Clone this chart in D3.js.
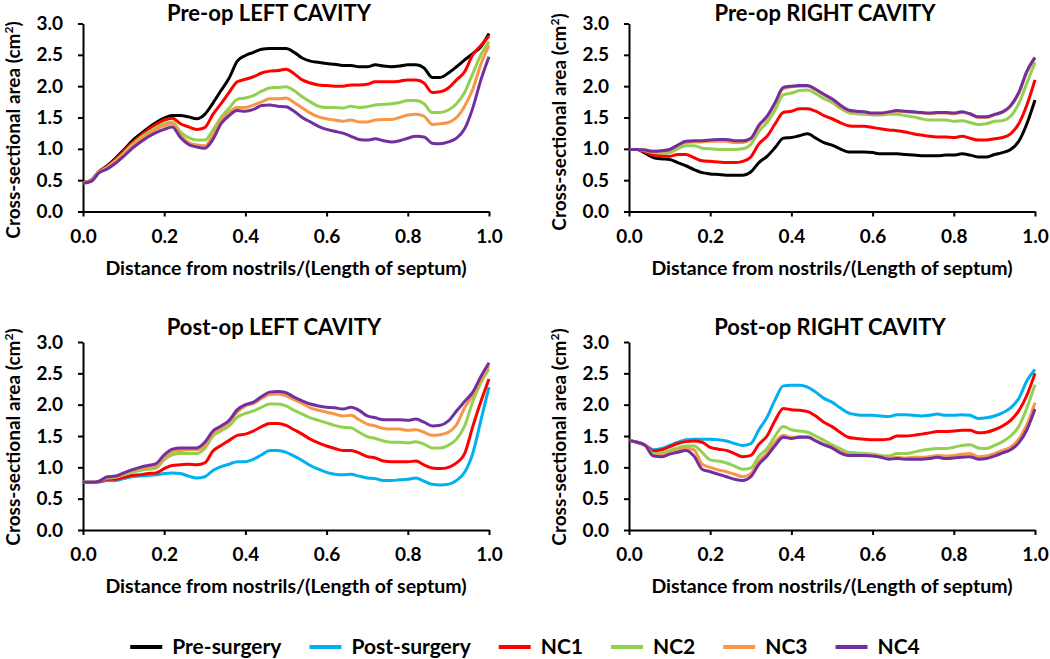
<!DOCTYPE html>
<html>
<head>
<meta charset="utf-8">
<script src="https://cdn.jsdelivr.net/npm/d3@7"></script>
<style>
  body { margin: 0; background: #fff; }
  svg text { font-family: Lato, "Open Sans", sans-serif; font-weight: bold; fill: #000; }
</style>
</head>
<body>
<svg id="chart" width="1050" height="659"></svg>
<script>
// sample positions along the septum (fraction of length)
const xPos = [0, 0.02, 0.04, 0.06, 0.08, 0.10, 0.12, 0.14, 0.16, 0.18, 0.20, 0.22, 0.24, 0.26, 0.28, 0.30,
  0.32, 0.34, 0.36, 0.38, 0.40, 0.42, 0.44, 0.46, 0.48, 0.50, 0.52, 0.54, 0.56, 0.58, 0.60, 0.62, 0.64,
  0.66, 0.68, 0.70, 0.72, 0.74, 0.76, 0.78, 0.80, 0.82, 0.84, 0.86, 0.88, 0.90, 0.92, 0.94, 0.96, 0.98, 1.00];

const seriesNames = ["Pre-surgery", "Post-surgery", "NC1", "NC2", "NC3", "NC4"];
const seriesColors = ["#000000", "#00b0f0", "#ff0000", "#92d050", "#f79646", "#7030a0"];
const panelTitles = ["Pre-op LEFT CAVITY", "Pre-op RIGHT CAVITY", "Post-op LEFT CAVITY", "Post-op RIGHT CAVITY"];
const xTicks = [0, 0.2, 0.4, 0.6, 0.8, 1.0];
const yTicks = [0, 0.5, 1.0, 1.5, 2.0, 2.5, 3.0];

// Pre-op left cavity
const preLeftPre = [0.46, 0.50, 0.64, 0.73, 0.85, 0.98, 1.12, 1.23, 1.33, 1.42, 1.49, 1.53, 1.53, 1.51, 1.48, 1.55,
  1.73, 1.93, 2.13, 2.40, 2.49, 2.54, 2.59, 2.60, 2.60, 2.60, 2.54, 2.45, 2.40, 2.38, 2.36, 2.35, 2.33,
  2.33, 2.31, 2.31, 2.34, 2.32, 2.31, 2.32, 2.34, 2.34, 2.29, 2.14, 2.14, 2.21, 2.31, 2.42, 2.52, 2.63, 2.84];
const preLeftNC1 = [0.46, 0.50, 0.64, 0.72, 0.83, 0.96, 1.09, 1.20, 1.30, 1.39, 1.46, 1.49, 1.40, 1.35, 1.31, 1.34,
  1.55, 1.72, 1.90, 2.07, 2.11, 2.15, 2.21, 2.24, 2.25, 2.27, 2.20, 2.10, 2.05, 2.02, 2.01, 2.00, 2.00,
  2.02, 2.02, 2.03, 2.07, 2.07, 2.07, 2.08, 2.10, 2.10, 2.05, 1.90, 1.91, 1.97, 2.10, 2.23, 2.50, 2.65, 2.80];
const preLeftNC2 = [0.46, 0.50, 0.63, 0.71, 0.81, 0.93, 1.06, 1.17, 1.26, 1.34, 1.40, 1.43, 1.27, 1.18, 1.14, 1.14,
  1.30, 1.50, 1.65, 1.79, 1.81, 1.85, 1.92, 1.97, 1.98, 1.99, 1.93, 1.83, 1.75, 1.68, 1.66, 1.66, 1.65,
  1.68, 1.66, 1.67, 1.70, 1.71, 1.72, 1.74, 1.77, 1.77, 1.72, 1.58, 1.58, 1.62, 1.72, 1.90, 2.20, 2.50, 2.71];
const preLeftNC3 = [0.46, 0.49, 0.63, 0.70, 0.80, 0.91, 1.04, 1.14, 1.23, 1.31, 1.37, 1.40, 1.22, 1.10, 1.06, 1.05,
  1.22, 1.45, 1.58, 1.66, 1.66, 1.70, 1.75, 1.80, 1.80, 1.81, 1.74, 1.65, 1.57, 1.51, 1.48, 1.46, 1.44,
  1.46, 1.43, 1.43, 1.46, 1.47, 1.47, 1.50, 1.54, 1.55, 1.52, 1.39, 1.40, 1.42, 1.50, 1.68, 1.95, 2.35, 2.65];
const preLeftNC4 = [0.45, 0.48, 0.62, 0.68, 0.77, 0.88, 1.00, 1.10, 1.19, 1.26, 1.31, 1.35, 1.18, 1.07, 1.03, 1.01,
  1.15, 1.40, 1.53, 1.61, 1.60, 1.63, 1.69, 1.70, 1.68, 1.67, 1.60, 1.50, 1.43, 1.36, 1.31, 1.28, 1.25,
  1.20, 1.15, 1.14, 1.16, 1.13, 1.11, 1.13, 1.17, 1.20, 1.19, 1.09, 1.08, 1.11, 1.17, 1.32, 1.65, 2.10, 2.47];

// Pre-op right cavity
const preRightPre = [0.99, 0.99, 0.93, 0.86, 0.84, 0.83, 0.78, 0.73, 0.67, 0.62, 0.60, 0.59, 0.58, 0.58, 0.58, 0.63,
  0.78, 0.88, 1.02, 1.17, 1.18, 1.21, 1.24, 1.17, 1.10, 1.06, 1.00, 0.95, 0.95, 0.95, 0.94, 0.92, 0.92,
  0.92, 0.91, 0.90, 0.89, 0.89, 0.89, 0.90, 0.90, 0.92, 0.90, 0.87, 0.87, 0.91, 0.94, 0.99, 1.12, 1.40, 1.78];
const preRightNC1 = [0.99, 0.99, 0.95, 0.90, 0.89, 0.88, 0.91, 0.91, 0.86, 0.81, 0.80, 0.79, 0.78, 0.78, 0.80, 0.87,
  1.08, 1.20, 1.40, 1.58, 1.60, 1.64, 1.64, 1.60, 1.53, 1.48, 1.42, 1.37, 1.36, 1.36, 1.34, 1.32, 1.30,
  1.29, 1.27, 1.24, 1.22, 1.20, 1.19, 1.19, 1.18, 1.20, 1.17, 1.14, 1.14, 1.16, 1.18, 1.24, 1.40, 1.70, 2.10];
const preRightNC2 = [0.99, 0.99, 0.97, 0.94, 0.93, 0.94, 1.00, 1.05, 1.05, 1.01, 1.00, 0.99, 0.99, 0.99, 1.00, 1.07,
  1.28, 1.42, 1.62, 1.86, 1.89, 1.93, 1.94, 1.88, 1.80, 1.74, 1.65, 1.58, 1.56, 1.55, 1.54, 1.54, 1.55,
  1.55, 1.53, 1.51, 1.48, 1.46, 1.46, 1.46, 1.44, 1.45, 1.42, 1.39, 1.40, 1.44, 1.45, 1.52, 1.72, 2.05, 2.38];
const preRightNC3 = [0.99, 0.99, 0.98, 0.96, 0.96, 0.98, 1.05, 1.10, 1.11, 1.11, 1.12, 1.12, 1.12, 1.10, 1.10, 1.15,
  1.36, 1.50, 1.72, 1.96, 1.99, 2.00, 2.00, 1.94, 1.86, 1.78, 1.68, 1.61, 1.59, 1.58, 1.56, 1.56, 1.58,
  1.60, 1.59, 1.58, 1.57, 1.56, 1.57, 1.57, 1.56, 1.58, 1.55, 1.50, 1.50, 1.54, 1.58, 1.68, 1.88, 2.22, 2.45];
const preRightNC4 = [0.99, 0.99, 0.98, 0.96, 0.97, 0.99, 1.06, 1.12, 1.13, 1.13, 1.14, 1.15, 1.15, 1.13, 1.13, 1.17,
  1.38, 1.52, 1.74, 1.98, 2.00, 2.01, 2.01, 1.95, 1.87, 1.80, 1.70, 1.62, 1.60, 1.59, 1.57, 1.57, 1.59,
  1.61, 1.60, 1.59, 1.58, 1.57, 1.58, 1.58, 1.57, 1.59, 1.56, 1.51, 1.51, 1.55, 1.59, 1.69, 1.90, 2.24, 2.46];

// Post-op left cavity
const postLeftPost = [0.76, 0.76, 0.77, 0.79, 0.79, 0.82, 0.85, 0.86, 0.87, 0.88, 0.90, 0.91, 0.90, 0.86, 0.83, 0.85,
  0.95, 1.01, 1.05, 1.09, 1.09, 1.13, 1.20, 1.27, 1.27, 1.24, 1.18, 1.11, 1.03, 0.97, 0.92, 0.89, 0.88,
  0.89, 0.86, 0.83, 0.82, 0.79, 0.79, 0.80, 0.81, 0.83, 0.78, 0.73, 0.72, 0.73, 0.79, 0.92, 1.22, 1.75, 2.28];
const postLeftNC1 = [0.76, 0.76, 0.77, 0.81, 0.81, 0.84, 0.87, 0.88, 0.90, 0.91, 0.98, 1.03, 1.04, 1.05, 1.04, 1.07,
  1.26, 1.35, 1.43, 1.51, 1.53, 1.58, 1.65, 1.70, 1.70, 1.67, 1.60, 1.53, 1.45, 1.39, 1.34, 1.30, 1.27,
  1.27, 1.23, 1.17, 1.15, 1.10, 1.09, 1.09, 1.09, 1.10, 1.04, 0.99, 0.98, 1.00, 1.07, 1.22, 1.65, 2.05, 2.41];
const postLeftNC2 = [0.76, 0.76, 0.78, 0.83, 0.84, 0.88, 0.92, 0.95, 0.97, 0.99, 1.12, 1.20, 1.22, 1.22, 1.22, 1.30,
  1.50, 1.58, 1.66, 1.80, 1.86, 1.90, 1.96, 2.01, 2.01, 1.98, 1.91, 1.85, 1.79, 1.75, 1.71, 1.67, 1.64,
  1.63, 1.56, 1.49, 1.46, 1.42, 1.40, 1.40, 1.39, 1.41, 1.37, 1.31, 1.31, 1.35, 1.45, 1.66, 2.05, 2.35, 2.57];
const postLeftNC3 = [0.76, 0.76, 0.78, 0.84, 0.85, 0.90, 0.95, 0.98, 1.00, 1.02, 1.15, 1.25, 1.27, 1.28, 1.28, 1.35,
  1.55, 1.63, 1.72, 1.88, 1.98, 2.02, 2.10, 2.16, 2.17, 2.14, 2.08, 2.02, 1.95, 1.91, 1.88, 1.85, 1.82,
  1.83, 1.76, 1.69, 1.66, 1.62, 1.61, 1.61, 1.59, 1.60, 1.56, 1.51, 1.52, 1.56, 1.68, 1.95, 2.15, 2.40, 2.62];
const postLeftNC4 = [0.76, 0.76, 0.78, 0.85, 0.86, 0.91, 0.96, 1.00, 1.03, 1.06, 1.20, 1.29, 1.31, 1.31, 1.31, 1.40,
  1.58, 1.66, 1.75, 1.92, 2.00, 2.04, 2.13, 2.20, 2.21, 2.19, 2.12, 2.06, 2.01, 1.98, 1.96, 1.95, 1.93,
  1.96, 1.91, 1.82, 1.79, 1.76, 1.76, 1.76, 1.75, 1.77, 1.72, 1.66, 1.67, 1.74, 1.90, 2.05, 2.20, 2.45, 2.67];

// Post-op right cavity
const postRightPost = [1.43, 1.40, 1.35, 1.28, 1.30, 1.35, 1.40, 1.44, 1.45, 1.45, 1.45, 1.44, 1.42, 1.38, 1.35, 1.38,
  1.60, 1.80, 2.08, 2.30, 2.31, 2.31, 2.28, 2.20, 2.10, 2.04, 1.95, 1.87, 1.84, 1.83, 1.83, 1.82, 1.81,
  1.84, 1.84, 1.83, 1.82, 1.83, 1.85, 1.83, 1.83, 1.84, 1.83, 1.78, 1.79, 1.82, 1.87, 1.95, 2.10, 2.38, 2.56];
const postRightNC1 = [1.43, 1.40, 1.35, 1.26, 1.28, 1.33, 1.38, 1.41, 1.42, 1.40, 1.32, 1.29, 1.27, 1.22, 1.17, 1.19,
  1.37, 1.50, 1.75, 1.94, 1.92, 1.91, 1.89, 1.82, 1.72, 1.65, 1.56, 1.48, 1.46, 1.45, 1.44, 1.44, 1.45,
  1.50, 1.50, 1.51, 1.53, 1.55, 1.57, 1.57, 1.58, 1.59, 1.59, 1.55, 1.56, 1.60, 1.66, 1.75, 1.90, 2.15, 2.50];
const postRightNC2 = [1.43, 1.40, 1.35, 1.22, 1.23, 1.27, 1.31, 1.34, 1.34, 1.24, 1.12, 1.10, 1.07, 1.02, 0.97, 0.99,
  1.18, 1.30, 1.50, 1.65, 1.60, 1.58, 1.56, 1.50, 1.43, 1.36, 1.30, 1.24, 1.23, 1.22, 1.21, 1.19, 1.18,
  1.22, 1.22, 1.24, 1.27, 1.29, 1.30, 1.30, 1.32, 1.35, 1.36, 1.31, 1.30, 1.35, 1.41, 1.50, 1.65, 1.95, 2.32];
const postRightNC3 = [1.43, 1.40, 1.35, 1.19, 1.19, 1.23, 1.27, 1.30, 1.28, 1.05, 1.00, 0.96, 0.93, 0.89, 0.85, 0.90,
  1.10, 1.23, 1.40, 1.51, 1.48, 1.49, 1.49, 1.43, 1.37, 1.32, 1.25, 1.21, 1.20, 1.20, 1.19, 1.17, 1.15,
  1.16, 1.15, 1.16, 1.16, 1.17, 1.19, 1.18, 1.19, 1.21, 1.22, 1.17, 1.18, 1.22, 1.27, 1.32, 1.45, 1.68, 2.03];
const postRightNC4 = [1.43, 1.40, 1.35, 1.18, 1.17, 1.21, 1.24, 1.27, 1.18, 0.97, 0.93, 0.89, 0.85, 0.81, 0.79, 0.85,
  1.05, 1.18, 1.35, 1.48, 1.46, 1.48, 1.48, 1.42, 1.36, 1.31, 1.23, 1.19, 1.19, 1.19, 1.18, 1.16, 1.13,
  1.14, 1.13, 1.13, 1.13, 1.14, 1.16, 1.14, 1.15, 1.16, 1.17, 1.13, 1.14, 1.18, 1.23, 1.28, 1.39, 1.60, 1.93];

// one entry per panel: which series (index into seriesNames) and its values
const panelSeries = [
  [[0, preLeftPre], [2, preLeftNC1], [3, preLeftNC2], [4, preLeftNC3], [5, preLeftNC4]],
  [[0, preRightPre], [2, preRightNC1], [3, preRightNC2], [4, preRightNC3], [5, preRightNC4]],
  [[1, postLeftPost], [2, postLeftNC1], [3, postLeftNC2], [4, postLeftNC3], [5, postLeftNC4]],
  [[1, postRightPost], [2, postRightNC1], [3, postRightNC2], [4, postRightNC3], [5, postRightNC4]]
];

const svg = d3.select("#chart");

// plot areas (left, right, top, bottom) in page pixels
const panelBoxes = [
  {x0: 83, x1: 489, y0: 23.5, y1: 211.5, titleX: 269, titleY: 21, yTitleY: 130},
  {x0: 629, x1: 1035, y0: 23.5, y1: 211.5, titleX: 825, titleY: 21, yTitleY: 122},
  {x0: 83, x1: 489, y0: 342, y1: 530, titleX: 274, titleY: 335, yTitleY: 437},
  {x0: 629, x1: 1035, y0: 342, y1: 530, titleX: 830, titleY: 335, yTitleY: 437}
];

function drawPanel(box, title, series) {
  const x = d3.scaleLinear().domain([0, 1]).range([box.x0, box.x1]);
  const y = d3.scaleLinear().domain([0, 3]).range([box.y1, box.y0]);
  const g = svg.append("g");

  const xAxis = g.append("g")
    .attr("transform", "translate(0," + box.y1 + ")")
    .call(d3.axisBottom(x).tickValues(xTicks).tickFormat(d3.format(".1f"))
      .tickSize(5).tickSizeOuter(0).tickPadding(13));
  const yAxis = g.append("g")
    .attr("transform", "translate(" + box.x0 + ",0)")
    .call(d3.axisLeft(y).tickValues(yTicks).tickFormat(d3.format(".1f"))
      .tickSize(5).tickSizeOuter(0).tickPadding(15));

  [xAxis, yAxis].forEach(a => {
    a.select(".domain").attr("stroke", "#000").attr("stroke-width", 2);
    a.selectAll(".tick line").attr("stroke", "#000").attr("stroke-width", 2);
    a.selectAll(".tick text").style("font-size", "19px").style("font-family", "Lato, sans-serif")
      .style("font-weight", "bold").attr("fill", "#000");
  });

  const line = d3.line()
    .x((d, i) => x(xPos[i]))
    .y(d => y(d))
    .curve(d3.curveMonotoneX);

  g.append("g").selectAll("path")
    .data(series)
    .enter()
    .append("path")
    .attr("d", s => line(s[1]))
    .attr("fill", "none")
    .attr("stroke", s => seriesColors[s[0]])
    .attr("stroke-width", 3)
    .attr("stroke-linejoin", "round");

  g.append("text")
    .attr("x", box.titleX).attr("y", box.titleY)
    .attr("text-anchor", "middle")
    .style("font-size", "22px")
    .text(title);

  g.append("text")
    .attr("x", (box.x0 + box.x1) / 2).attr("y", box.y1 + 63)
    .attr("text-anchor", "middle")
    .style("font-size", "19.5px")
    .text("Distance from nostrils/(Length of septum)");

  const yt = g.append("text")
    .attr("transform", "translate(" + (box.x0 - 63) + "," + box.yTitleY + ") rotate(-90)")
    .attr("text-anchor", "middle")
    .style("font-size", "19px");
  yt.append("tspan").text("Cross-sectional area (cm");
  yt.append("tspan").attr("dy", -7).style("font-size", "12px").text("2");
  yt.append("tspan").attr("dy", 7).text(")");
}

panelBoxes.forEach((box, i) => drawPanel(box, panelTitles[i], panelSeries[i]));

// legend along the bottom, centred on the page
const legend = svg.append("g");
const lineLen = 32, textGap = 10, itemGap = 28;
const items = legend.selectAll("g")
  .data(seriesNames)
  .enter()
  .append("g");
items.append("line")
  .attr("x1", 0).attr("x2", lineLen)
  .attr("y1", 0).attr("y2", 0)
  .attr("stroke", (d, i) => seriesColors[i])
  .attr("stroke-width", 4);
items.append("text")
  .attr("x", lineLen + textGap).attr("y", 7)
  .style("font-size", "21px")
  .text(d => d);

let cursor = 0;
items.each(function () {
  const w = this.querySelector("text").getComputedTextLength();
  d3.select(this).attr("transform", "translate(" + cursor + ",0)");
  cursor += lineLen + textGap + w + itemGap;
});
const total = cursor - itemGap;
legend.attr("transform", "translate(" + (525 - total / 2) + ",647)");
</script>
</body>
</html>
